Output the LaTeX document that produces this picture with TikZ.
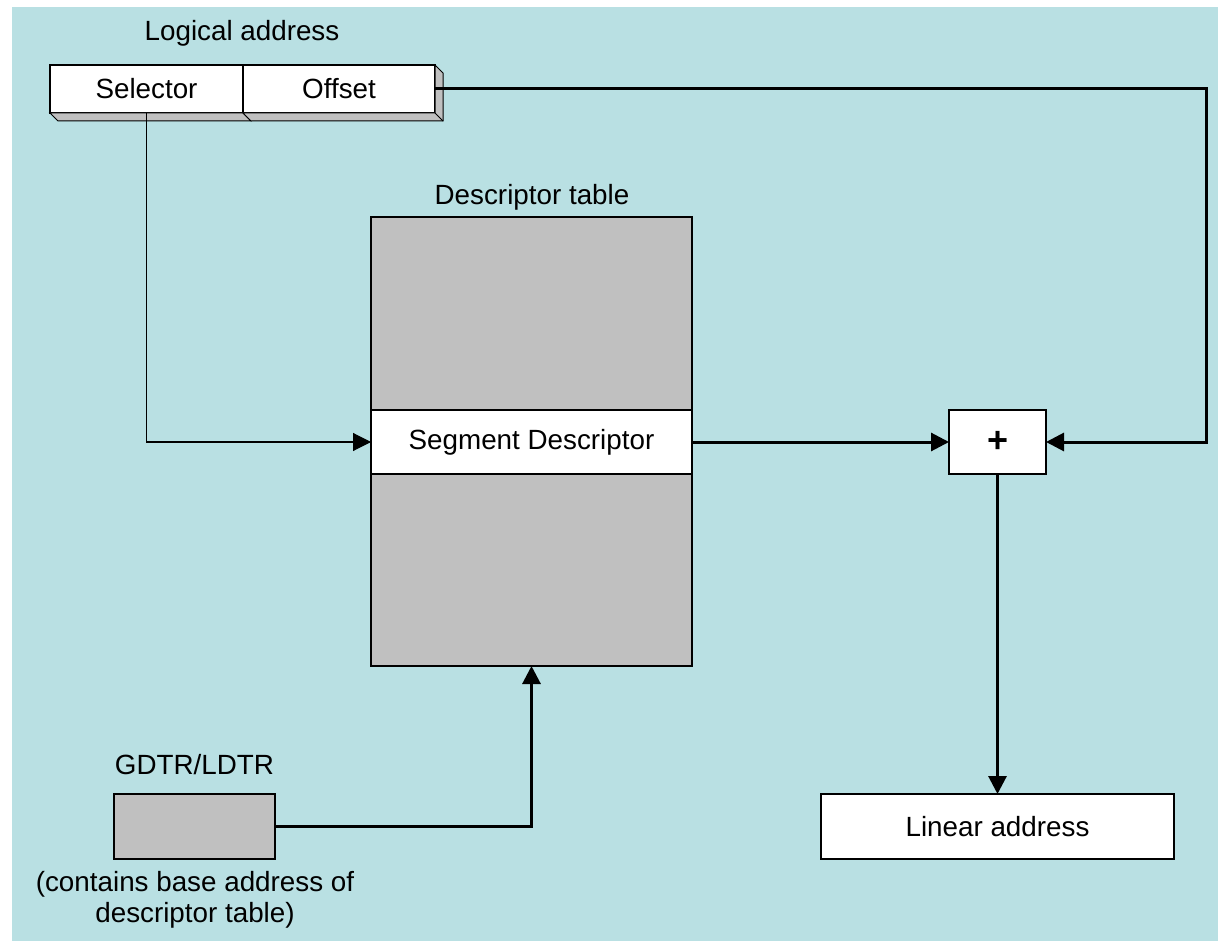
\documentclass[tikz,border=0pt]{standalone}
\usepackage{fontspec}
\setmainfont{Liberation Sans}
\usetikzlibrary{arrows.meta}
\definecolor{bg}{RGB}{185,224,227}
\definecolor{fillgray}{RGB}{192,192,192}
\begin{document}
\begin{tikzpicture}[x=1pt,y=-1pt,
  every node/.style={font=\fontsize{27.8}{31}\selectfont, inner sep=0pt, outer sep=0pt},
  box/.style={draw, line width=1.2pt, fill=white},
  graybox/.style={draw, line width=1.2pt, fill=fillgray},
  shade3d/.style={draw, line width=1pt, fill=fillgray, line join=miter},
  thickline/.style={line width=3pt},
  thinline/.style={line width=1.1pt},
  arr/.style={-{Triangle[length=18pt,width=18pt]}}
]
\fill[white] (0,0) rectangle (1218,941);
\fill[bg] (12,7) rectangle (1218,941);
\useasboundingbox (0,0) rectangle (1218,941);

% Logical address
\node (lal) at (242,33) {Logical address};
\node[box, minimum width=193pt, minimum height=48pt] (sel) at (146.5,89) {Selector};
\node[box, minimum width=192pt, minimum height=48pt] (off) at (339,89) {Offset};
\draw[shade3d] (sel.south west) -- ([shift={(8,8)}]sel.south west) -- ([shift={(8,8)}]sel.south east) -- (sel.south east) -- cycle;
\draw[shade3d] (off.south west) -- ([shift={(8,8)}]off.south west) -- ([shift={(8,8)}]off.south east) -- ([shift={(8,8)}]off.north east) -- (off.north east) -- (off.south east) -- cycle;
\draw[line width=1pt] (off.south east) -- ([shift={(8,8)}]off.south east);

% Descriptor table
\node (tlab) at (532,197) {Descriptor table};
\node[graybox, minimum width=321pt, minimum height=449pt] (tab) at (531.5,441.5) {};
\node[box, minimum width=321pt, minimum height=64pt] (seg) at (531.5,442) {Segment Descriptor};

% Adder
\node[box, minimum width=97pt, minimum height=64pt, font=\fontsize{36}{36}\selectfont\bfseries] (plus) at (997.5,442) {+};

% Linear address
\node[box, minimum width=353pt, minimum height=65pt] (lin) at (997.5,826.5) {Linear address};

% GDTR/LDTR
\node (glab) at (194.5,765) {GDTR/LDTR};
\node[graybox, minimum width=161pt, minimum height=65pt] (gdtr) at (194.5,826.5) {};
\node[align=center] (gnote) at (195,900) {(contains base address of\\descriptor table)};

% Connectors
\coordinate (oc) at (1206,89);
\draw[thinline, arr] (sel.south) |- (seg.west);
\draw[thickline, arr] (off.east) -- (oc) |- (plus.east);
\draw[thickline, arr] (seg.east) -- (plus.west);
\draw[thickline, arr] (plus.south) -- (lin.north);
\draw[thickline, arr] (gdtr.east) -| (tab.south);
\end{tikzpicture}
\end{document}
